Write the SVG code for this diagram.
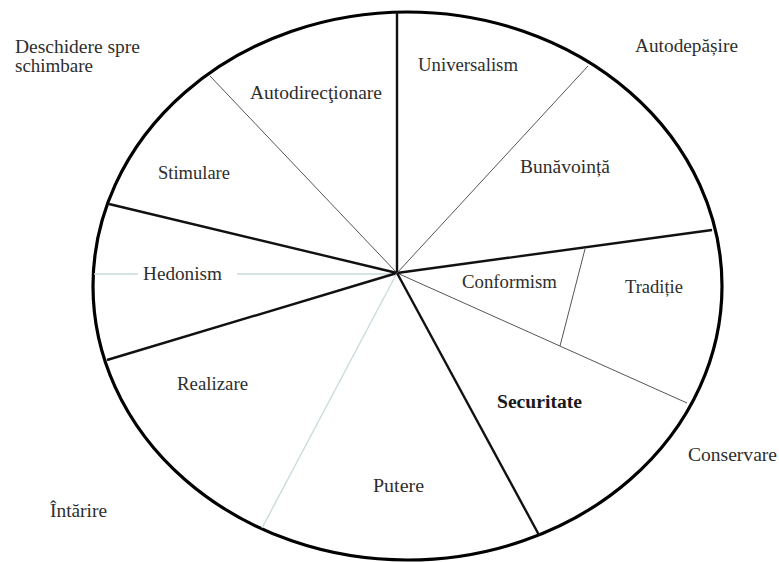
<svg xmlns="http://www.w3.org/2000/svg" width="779" height="562" viewBox="0 0 779 562">
  <style>
    text { font-family: "Liberation Serif", "Times New Roman", serif; font-size: 18px; fill: #2e2e2e; }
    .bold { font-weight: bold; fill: #1a1a1a; }
    .rim { fill: #fff; stroke: #000; stroke-width: 3.2; }
    .major { stroke: #111; stroke-width: 2.4; fill: none; }
    .minor { stroke: #555; stroke-width: 1; fill: none; }
    .faint { stroke: #c9dadd; stroke-width: 1.3; fill: none; }
  </style>
  <rect width="779" height="562" fill="#fff"/>

  <!-- outer circle of values -->
  <ellipse class="rim" cx="407.5" cy="286" rx="314.5" ry="274"/>

  <!-- dividing lines, all radiating from the hub -->
  <g id="connectors">
    <line class="major" x1="397" y1="12" x2="397" y2="273"/>
    <line class="minor" x1="397" y1="273" x2="210" y2="76"/>
    <line class="major" x1="397" y1="273" x2="109" y2="204"/>
    <line class="faint" x1="94" y1="274" x2="138" y2="274"/>
    <line class="faint" x1="237" y1="274" x2="397" y2="274"/>
    <line class="major" x1="397" y1="273" x2="107" y2="360"/>
    <line class="faint" x1="397" y1="273" x2="262" y2="528"/>
    <line class="major" x1="397" y1="273" x2="539" y2="535"/>
    <line class="minor" x1="397" y1="273" x2="687" y2="403"/>
    <line class="minor" x1="560" y1="346" x2="585" y2="249"/>
    <line class="major" x1="397" y1="273" x2="712" y2="230"/>
    <line class="minor" x1="397" y1="273" x2="588" y2="66"/>
  </g>

  <!-- value sectors -->
  <g id="autodirectionare"><text x="250" y="99" textLength="132" lengthAdjust="spacingAndGlyphs">Autodirecţionare</text></g>
  <g id="stimulare"><text x="158" y="179" textLength="72" lengthAdjust="spacingAndGlyphs">Stimulare</text></g>
  <g id="hedonism"><text x="143" y="280" textLength="79" lengthAdjust="spacingAndGlyphs">Hedonism</text></g>
  <g id="realizare"><text x="177" y="390" textLength="71" lengthAdjust="spacingAndGlyphs">Realizare</text></g>
  <g id="putere"><text x="373" y="492" textLength="51" lengthAdjust="spacingAndGlyphs">Putere</text></g>
  <g id="securitate"><text class="bold" x="497" y="408" textLength="85" lengthAdjust="spacingAndGlyphs">Securitate</text></g>
  <g id="conformism"><text x="462" y="288" textLength="95" lengthAdjust="spacingAndGlyphs">Conformism</text></g>
  <g id="traditie"><text x="625" y="293" textLength="58" lengthAdjust="spacingAndGlyphs">Tradiție</text></g>
  <g id="bunavointa"><text x="520" y="173" textLength="90" lengthAdjust="spacingAndGlyphs">Bunăvoință</text></g>
  <g id="universalism"><text x="418" y="71" textLength="100" lengthAdjust="spacingAndGlyphs">Universalism</text></g>

  <!-- higher-order dimensions outside the circle -->
  <g id="deschidere">
    <text x="15" y="53" textLength="125" lengthAdjust="spacingAndGlyphs">Deschidere spre</text>
    <text x="15" y="72" textLength="78" lengthAdjust="spacingAndGlyphs">schimbare</text>
  </g>
  <g id="autodepasire"><text x="635" y="52" textLength="103" lengthAdjust="spacingAndGlyphs">Autodepășire</text></g>
  <g id="conservare"><text x="688" y="461" textLength="89" lengthAdjust="spacingAndGlyphs">Conservare</text></g>
  <g id="intarire"><text x="50" y="517" textLength="57" lengthAdjust="spacingAndGlyphs">Întărire</text></g>
</svg>
